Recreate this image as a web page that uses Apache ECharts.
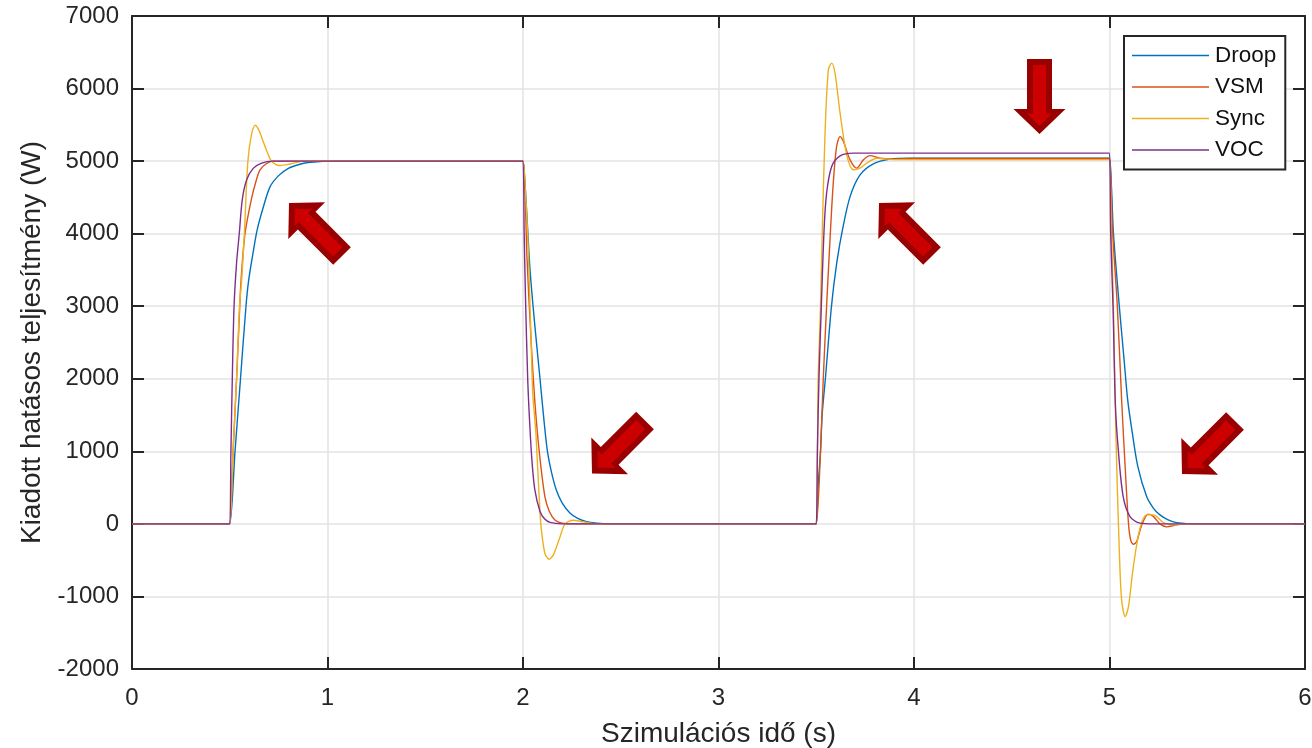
<!DOCTYPE html>
<html>
<head>
<meta charset="utf-8">
<script src="https://cdn.jsdelivr.net/npm/echarts@6/dist/echarts.min.js"></script>
<style>html,body{margin:0;padding:0;background:#fff}#c{width:1312px;height:748px}</style>
</head>
<body>
<div id="c"></div>
<script>
const seriesNames = ['Droop', 'VSM', 'Sync', 'VOC'];
const xLabel = 'Szimulációs idő (s)';
const yLabel = 'Kiadott hatásos teljesítmény (W)';

const droop = [[0,0],[0.49,0],[0.5,0],[0.527,1000],[0.555,2000],[0.583,3000],[0.597,3363],[0.62,3750],[0.64,4050],[0.67,4350],[0.706,4645],[0.75,4800],[0.8,4900],[0.85,4950],[0.9,4980],[1.05,5000],
[1.99,5000],[2,5000],[2.01,4700],[2.02,4250],[2.036,3500],[2.06,2750],[2.087,2000],[2.107,1433],[2.125,1000],[2.145,720],[2.17,470],[2.2,290],[2.24,150],[2.28,75],[2.325,30],[2.38,10],[2.44,0],
[3.49,0],[3.5,0],[3.509,500],[3.522,1000],[3.53,1500],[3.547,2010],[3.578,3005],[3.605,3600],[3.634,4052],[3.673,4511],[3.724,4810],[3.792,4962],[3.877,5027],[3.98,5040],
[4.99,5040],[5,5040],[5.01,4650],[5.02,4011],[5.05,3005],[5.075,2250],[5.093,1710],[5.117,1250],[5.145,790],[5.19,376],[5.225,215],[5.258,124],[5.3,55],[5.343,18],[5.45,0],[6,0]];

const vsm = [[0,0],[0.49,0],[0.5,0],[0.517,1000],[0.535,2000],[0.548,2800],[0.558,3363],[0.578,4000],[0.61,4466],[0.635,4730],[0.655,4880],[0.685,4960],[0.72,5000],
[1.99,5000],[2,5000],[2.01,4600],[2.02,3700],[2.04,2600],[2.06,1710],[2.083,1000],[2.112,376],[2.135,170],[2.163,55],[2.2,10],[2.25,0],
[3.49,0],[3.5,0],[3.522,1020],[3.536,2010],[3.553,3005],[3.573,4052],[3.587,4696],[3.604,5200],[3.622,5338],[3.639,5270],[3.673,5017],[3.707,4903],[3.741,5017],[3.775,5076],[3.826,5040],[3.9,5030],[4,5035],
[4.99,5035],[5,5035],[5.016,4011],[5.04,3005],[5.062,1710],[5.08,790],[5.097,10],[5.108,-220],[5.122,-280],[5.139,-244],[5.165,-14],[5.199,134],[5.225,100],[5.258,0],[5.292,-41],[5.343,-14],[5.395,0],[6,0]];

const sync = [[0,0],[0.49,0],[0.5,0],[0.517,1000],[0.535,2000],[0.55,3000],[0.561,3363],[0.575,4010],[0.592,4975],[0.61,5350],[0.631,5495],[0.65,5420],[0.671,5270],[0.709,5017],[0.735,4955],[0.757,4940],[0.808,4960],[0.88,5000],
[1.99,5000],[2,5000],[2.012,4600],[2.027,3777],[2.047,2000],[2.052,1710],[2.066,1250],[2.087,147],[2.096,-128],[2.112,-404],[2.133,-487],[2.155,-427],[2.19,-175],[2.215,0],[2.257,50],[2.31,27],[2.38,0],
[3.49,0],[3.5,0],[3.51,2010],[3.522,3005],[3.531,4052],[3.545,5385],[3.562,6258],[3.579,6350],[3.596,6212],[3.622,5661],[3.656,5086],[3.69,4880],[3.724,4903],[3.758,4972],[3.81,5040],[3.9,5020],
[4.99,5020],[5,5020],[5.01,4011],[5.02,3005],[5.029,1710],[5.037,790],[5.05,-358],[5.062,-1047],[5.08,-1277],[5.097,-1140],[5.122,-588],[5.156,-59],[5.19,124],[5.225,124],[5.276,18],[5.327,-14],[5.395,0],[6,0]];

const voc = [[0,0],[0.49,0],[0.5,0],[0.506,1000],[0.513,2000],[0.522,3000],[0.535,3600],[0.549,4010],[0.564,4466],[0.586,4740],[0.62,4900],[0.66,4970],[0.72,5000],
[1.99,5000],[2,5000],[2.006,4000],[2.013,3100],[2.024,2000],[2.034,1400],[2.045,900],[2.06,480],[2.087,170],[2.11,70],[2.138,20],[2.2,0],
[3.49,0],[3.5,0],[3.506,1020],[3.514,2010],[3.526,3005],[3.54,4052],[3.553,4558],[3.579,4925],[3.622,5072],[3.69,5110],
[4.99,5110],[5,5110],[5.006,4011],[5.018,3005],[5.03,1650],[5.045,1020],[5.07,376],[5.105,100],[5.156,10],[5.225,0],[6,0]];

const seriesData = [droop, vsm, sync, voc];
const colors = ['#0072BD', '#D95319', '#EDB120', '#7E2F8E'];
const ink = '#262626';
const font = '"Liberation Sans", Arial, sans-serif';

function arrow(x, y, deg) {
  const rotation = deg * Math.PI / 180;
  return [
    { type: 'polygon', x, y, rotation, z: 100, silent: true,
      shape: { points: [[0,0],[26,-25],[12.5,-25],[12.5,-75],[-12.5,-75],[-12.5,-25],[-26,-25]] },
      style: { fill: '#990000' } },
    { type: 'polygon', x, y, rotation, z: 101, silent: true,
      shape: { points: [[0,-8],[12.5,-20.5],[6.5,-20.5],[6.5,-69],[-6.5,-69],[-6.5,-20.5],[-12.5,-20.5]] },
      style: { fill: '#CC0000' } }
  ];
}

const chart = echarts.init(document.getElementById('c'), null, { renderer: 'canvas' });
const tickStyle = { show: true, inside: true, length: 12, lineStyle: { color: ink, width: 2 } };
const frameLine = { show: true, onZero: false, lineStyle: { color: ink, width: 2 } };
const gridLine = { show: true, lineStyle: { color: '#e3e3e3', width: 1.5 } };
chart.setOption({
  animation: false,
  backgroundColor: '#fff',
  grid: { left: 132, right: 7, top: 16, bottom: 79, show: false, outerBoundsMode: 'none', containLabel: false },
  legend: {
    orient: 'vertical', left: 1124, top: 36,
    data: seriesNames,
    icon: 'rect',
    backgroundColor: '#fff', borderColor: ink, borderWidth: 2, borderRadius: 0,
    padding: [8, 9, 8, 8],
    itemWidth: 77, itemHeight: 1.5, itemGap: 8.5,
    textStyle: { fontFamily: font, fontSize: 22.5, color: '#111', padding: [0, 0, 0, 1] },
    z: 50
  },
  xAxis: [
    { type: 'value', min: 0, max: 6, interval: 1, position: 'bottom',
      name: xLabel, nameLocation: 'middle', nameGap: 51,
      nameTextStyle: { fontFamily: font, fontSize: 28, color: ink },
      axisLine: frameLine,
      axisTick: tickStyle,
      axisLabel: { fontFamily: font, fontSize: 24, color: ink, margin: 17 },
      splitLine: gridLine },
    { type: 'value', min: 0, max: 6, interval: 1, position: 'top',
      axisLine: frameLine,
      axisTick: tickStyle, axisLabel: { show: false }, splitLine: { show: false } }
  ],
  yAxis: [
    { type: 'value', min: -2000, max: 7000, interval: 1000, position: 'left',
      name: yLabel, nameLocation: 'middle', nameGap: 85,
      nameTextStyle: { fontFamily: font, fontSize: 28, color: ink },
      axisLine: frameLine,
      axisTick: tickStyle,
      axisLabel: { fontFamily: font, fontSize: 24, color: ink, margin: 13, padding: [8, 0, 0, 0], formatter: v => String(v) },
      splitLine: gridLine },
    { type: 'value', min: -2000, max: 7000, interval: 1000, position: 'right',
      axisLine: frameLine,
      axisTick: tickStyle, axisLabel: { show: false }, splitLine: { show: false } }
  ],
  series: seriesNames.map((name, i) => ({
    name, type: 'line', data: seriesData[i],
    xAxisIndex: 0, yAxisIndex: 0,
    showSymbol: false, symbol: 'none',
    smooth: 0.3,
    lineStyle: { color: colors[i], width: 1.4 },
    itemStyle: { color: colors[i] },
    emphasis: { disabled: true }
  })),
  graphic: { elements: [
    ...arrow(289, 203, -135),
    ...arrow(592, 473.5, -45),
    ...arrow(879, 203, -135),
    ...arrow(1182, 474, -45),
    ...arrow(1039.5, 134, 0)
  ] }
});
</script>
</body>
</html>
